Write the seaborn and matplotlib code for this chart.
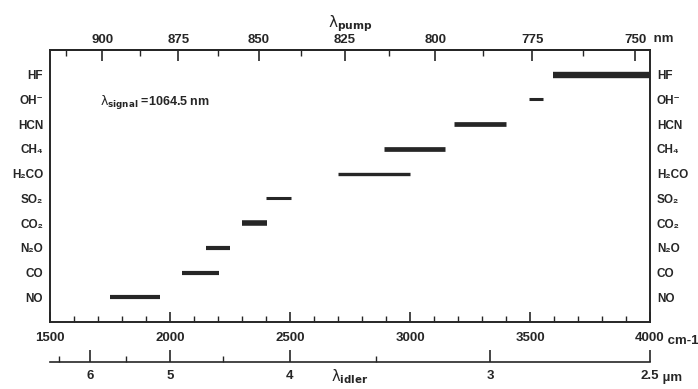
import pandas as pd
import matplotlib.pyplot as plt
import seaborn as sns

# Moléculas y rangos de número de onda del idler (cm-1)
molecules = ['NO', 'CO', 'N2O', 'CO2', 'SO2', 'H2CO', 'CH4', 'HCN', 'OH-', 'HF']
labels = ['NO', 'CO', 'N₂O', 'CO₂', 'SO₂', 'H₂CO', 'CH₄', 'HCN', 'OH⁻', 'HF']
wn_start = [1750, 2050, 2150, 2300, 2400, 2700, 2890, 3185, 3495, 3595]
wn_end = [1960, 2205, 2250, 2405, 2505, 3000, 3145, 3400, 3555, 4000]
bar_width = [3.0, 3.0, 3.0, 4.0, 2.2, 2.4, 3.4, 3.4, 2.2, 4.6]

signal_nm = 1064.5
pump_ticks = [900, 875, 850, 825, 800, 775, 750]
pump_minor = [912.5, 887.5, 862.5, 837.5, 812.5, 787.5, 762.5]
idler_ticks = [6, 5, 4, 3, 2.5]
idler_minor = [6.5, 5.5, 4.5, 3.5]
wn_ticks = [1500, 2000, 2500, 3000, 3500, 4000]

sns.set_theme(style='ticks')
plt.rcParams['font.family'] = ['Liberation Sans', 'DejaVu Sans']
plt.rcParams['mathtext.fontset'] = 'dejavusans'
plt.rcParams['lines.solid_capstyle'] = 'butt'

ink = '#262626'

rows = []
for i, m in enumerate(molecules):
    rows.append({'molecule': m, 'wn': wn_start[i], 'row': i})
    rows.append({'molecule': m, 'wn': wn_end[i], 'row': i})
df = pd.DataFrame(rows)

fig = plt.figure(figsize=(6.98, 3.89), dpi=100)
ax = fig.add_axes([50 / 698, 1 - 322 / 389, 600 / 698, 272 / 389])

sns.lineplot(data=df, x='wn', y='row', units='molecule', estimator=None,
             size='molecule', sizes=dict(zip(molecules, bar_width)),
             color=ink, legend=False, sort=False, ax=ax)

ax.set_xlim(1500, 4000)
ax.set_ylim(-1, 10)
ax.set_xlabel('')
ax.set_ylabel('')
ax.grid(False)
for s in ax.spines.values():
    s.set_visible(True)
    s.set_linewidth(1.4)
    s.set_color(ink)

# Eje inferior principal: número de onda
ax.set_xticks(wn_ticks)
ax.set_xticklabels([str(t) for t in wn_ticks], fontweight='bold')
ax.set_xticks(range(1600, 4000, 100), minor=True)
ax.tick_params(axis='x', which='major', direction='in', length=7, width=1.2,
               colors=ink, labelsize=9.5, pad=7, top=False)
ax.tick_params(axis='x', which='minor', direction='in', length=4, width=1,
               colors=ink, top=False)

# Moléculas a ambos lados
ax.set_yticks(range(len(molecules)))
ax.set_yticklabels(labels, fontweight='bold')
ax.tick_params(axis='y', length=0, labelsize=8.5, labelleft=True,
               labelright=True, pad=5, labelcolor=ink)

# Eje superior: longitud de onda de bombeo
def wn_to_pump(w):
    return 1e7 / (w + 1e7 / signal_nm)

def pump_to_wn(l):
    return 1e7 / l - 1e7 / signal_nm

top = ax.secondary_xaxis('top', functions=(wn_to_pump, pump_to_wn))
top.set_xticks(pump_ticks)
top.set_xticklabels([str(t) for t in pump_ticks], fontweight='bold')
top.set_xticks(pump_minor, minor=True)
top.tick_params(which='major', direction='in', length=8, width=1.2,
                colors=ink, labelsize=9.5, pad=3)
top.tick_params(which='minor', direction='in', length=4, width=1, colors=ink)
top.spines['top'].set_linewidth(1.4)
top.set_xlabel(r'$\mathrm{λ}_{\mathbf{pump}}$', fontsize=11, labelpad=5, color=ink)

# Eje inferior secundario: longitud de onda del idler
def wn_to_um(w):
    return 1e4 / w

idl = ax.secondary_xaxis(-0.147, functions=(wn_to_um, wn_to_um))
idl.set_xticks(idler_ticks)
idl.set_xticklabels(['6', '5', '4', '3', '2.5'], fontweight='bold')
idl.set_xticks(idler_minor, minor=True)
idl.tick_params(which='major', direction='in', length=9, width=1.2,
                colors=ink, labelsize=9.5, pad=6)
idl.tick_params(which='minor', direction='in', length=4, width=1, colors=ink)
idl.spines['bottom'].set_linewidth(1.2)
idl.set_xlabel(r'$\mathrm{λ}_{\mathbf{idler}}$', fontsize=10.5, labelpad=-11, color=ink)

# Unidades junto a las últimas marcas
fig.text(650 / 698, 1 - 45 / 389, ' nm', fontsize=9.5, fontweight='bold',
         color=ink, va='bottom')
fig.text(664 / 698, 1 - 341 / 389, ' cm-1', fontsize=9.5, fontweight='bold',
         color=ink, va='center')
fig.text(659 / 698, 1 - 378 / 389, ' µm', fontsize=9.5, fontweight='bold',
         color=ink, va='center')

ax.text(1710, 7.85, r'$\mathrm{λ}_{\mathbf{signal}}$ =1064.5 nm', fontsize=9,
        fontweight='bold', color=ink, va='center')

fig.savefig('out.png', dpi=100)
